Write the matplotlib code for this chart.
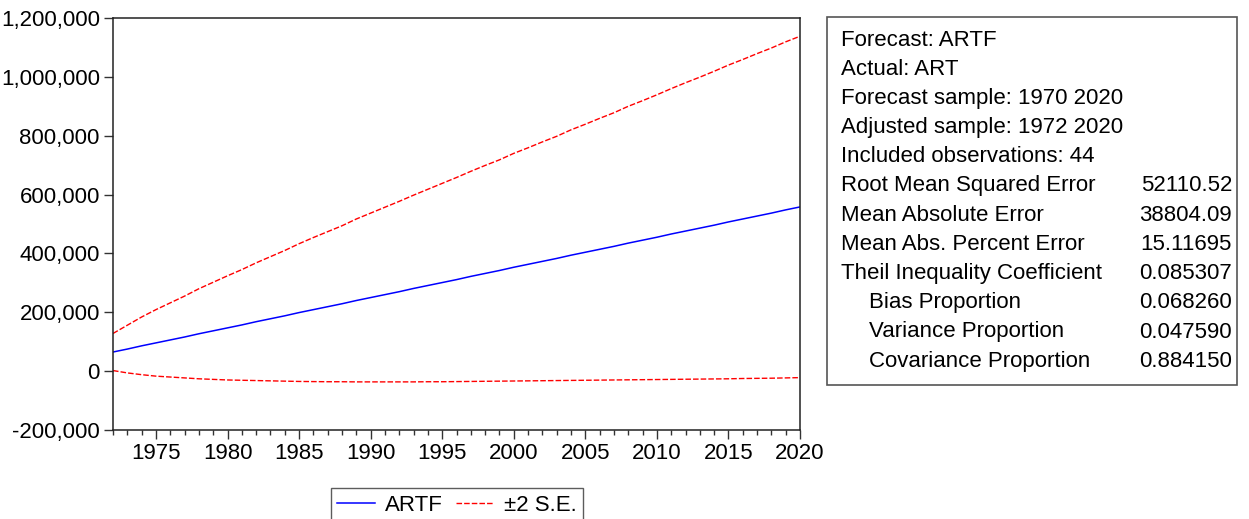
#!/usr/bin/env python3
"""
Forecast graph for ARTF with +/- 2 S.E. bands and forecast evaluation table
"""
import numpy as np
import matplotlib
matplotlib.use('Agg')
import matplotlib.pyplot as plt
from matplotlib.ticker import FuncFormatter, MultipleLocator
from matplotlib.patches import Rectangle

plt.rcParams['font.family'] = ['Liberation Sans', 'DejaVu Sans']

#--------------------------------------
# Data
#--------------------------------------
years = np.arange(1972, 2021)

artf = [65, 75, 86, 96, 106, 116, 127, 137, 147, 157,
        168, 178, 188, 199, 209, 219, 229, 240, 250, 260,
        270, 281, 291, 301, 311, 322, 332, 342, 353, 363,
        373, 383, 394, 404, 414, 424, 435, 445, 455, 466,
        476, 486, 496, 507, 517, 527, 537, 548, 558]

upper = [128, 156, 184, 209, 232, 255, 280, 302, 324, 345,
         368, 389, 410, 433, 454, 474, 494, 517, 537, 557,
         577, 598, 618, 638, 658, 679, 699, 718, 740, 759,
         779, 798, 820, 839, 859, 878, 900, 919, 939, 960,
         980, 999, 1019, 1040, 1059, 1079, 1098, 1119, 1138]

lower = [2, -6, -12, -17, -20, -23, -26, -28, -30, -31,
         -32, -33, -34, -35, -35.5, -36, -36, -36.5, -36.5, -36.5,
         -36.5, -36.5, -36, -36, -35.5, -35, -34.5, -34, -33.5, -33,
         -32.5, -32, -31.5, -31, -30.5, -30, -29.5, -29, -28.5, -28,
         -27.5, -27, -26.5, -26, -25, -24.5, -24, -23, -22]

# values above are in thousands
artf = np.array(artf) * 1000
upper = np.array(upper) * 1000
lower = np.array(lower) * 1000

stat_names = ['Root Mean Squared Error', 'Mean Absolute Error',
              'Mean Abs. Percent Error', 'Theil Inequality Coefficient',
              '   Bias Proportion', '   Variance Proportion',
              '   Covariance Proportion']
stat_values = ['52110.52', '38804.09', '15.11695', '0.085307',
               '0.068260', '0.047590', '0.884150']
header_lines = ['Forecast: ARTF', 'Actual: ART',
                'Forecast sample: 1970 2020', 'Adjusted sample: 1972 2020',
                'Included observations: 44']

FS = 16

#--------------------------------------
# Figure
#--------------------------------------
W, H = 1249, 519
fig = plt.figure(figsize=(W / 100, H / 100), dpi=100)

def fx(px):
    return px / W

def fy(py):
    return 1 - py / H

ax = fig.add_axes([fx(113), fy(430), fx(800) - fx(113), fy(18) - fy(430)])

ax.plot(years, artf, color='#0000ff', lw=1.1, label='ARTF')
ax.plot(years, upper, color='#ff0000', lw=1.0, dashes=(4, 1.5), label='±2 S.E.')
ax.plot(years, lower, color='#ff0000', lw=1.0, dashes=(4, 1.5))

ax.set_xlim(1972, 2020)
ax.set_ylim(-200000, 1200000)
ax.xaxis.set_major_locator(MultipleLocator(5))
ax.xaxis.set_minor_locator(MultipleLocator(1))
ax.yaxis.set_major_locator(MultipleLocator(200000))
ax.yaxis.set_major_formatter(FuncFormatter(lambda v, p: f'{int(v):,}'))

ax.tick_params(axis='both', which='major', direction='out', length=6.5,
               width=1, labelsize=FS, color='#333333')
ax.tick_params(axis='x', which='minor', direction='out', length=3.5, width=1,
               color='#333333')
ax.tick_params(axis='y', pad=3)
ax.tick_params(axis='x', pad=3)
for s in ax.spines.values():
    s.set_linewidth(1.1)
    s.set_color('#222222')

leg = ax.legend(loc='upper center', bbox_to_anchor=(fx(457), fy(488)),
                bbox_transform=fig.transFigure, ncol=2, fontsize=FS,
                frameon=True, fancybox=False, borderpad=0.3,
                handlelength=1.7, handletextpad=0.45, columnspacing=0.6,
                borderaxespad=0)
leg.get_frame().set_edgecolor('#333333')
leg.get_frame().set_linewidth(1.0)

# Evaluation table on the right
fig.patches.append(Rectangle((fx(827), fy(385)), fx(1237) - fx(827),
                             fy(17) - fy(385), transform=fig.transFigure,
                             fill=False, edgecolor='#555555', lw=1.2))

row_y = 40
step = 29.2
for line in header_lines:
    fig.text(fx(841), fy(row_y), line, fontsize=FS, va='center', ha='left')
    row_y += step
for name, val in zip(stat_names, stat_values):
    x0 = 869 if name.startswith(' ') else 841
    fig.text(fx(x0), fy(row_y), name.strip(), fontsize=FS, va='center', ha='left')
    fig.text(fx(1232), fy(row_y), val, fontsize=FS, va='center', ha='right')
    row_y += step

fig.savefig('out.png', dpi=100)
